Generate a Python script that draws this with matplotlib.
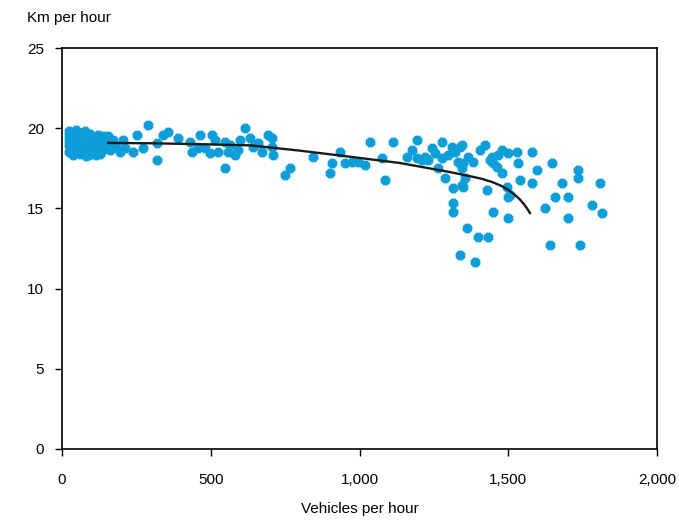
import matplotlib
matplotlib.use("Agg")
import matplotlib.pyplot as plt
from matplotlib.ticker import FuncFormatter

plt.rcParams['font.family'] = ['Liberation Sans', 'DejaVu Sans']

# observed flow (vehicles per hour) and speed (km per hour)
flow = [22, 22, 24, 34, 47, 61, 77, 94, 24, 34, 47, 61, 77, 94, 111, 24, 37, 54, 71, 87,
        104, 121, 128, 138, 148, 161, 171, 182, 27, 81, 114, 155, 128, 195, 205, 212,
        40, 55, 70, 85, 100, 118, 135, 150, 165, 60, 90, 120,
        252, 289, 272, 319, 239, 319, 339, 356, 390, 430, 464, 481, 504, 514, 524, 548,
        558, 548, 615, 632, 642, 672, 692, 706, 457, 497, 437, 565, 592, 598, 659, 582,
        706, 709, 766, 750, 844, 908, 901, 934, 951, 975, 995, 1018, 1035,
        1076, 1113, 1086, 1160, 1193, 1193, 1210, 1254, 1277, 1277, 1297, 1321, 1345,
        1331, 1345, 1355, 1287, 1314, 1348, 1365, 1244, 1264, 1311, 1230, 1314, 1314,
        1345, 1361, 1398, 1432, 1338, 1388, 1449, 1429, 1445, 1381, 1348, 1405, 1338,
        1462, 1466, 1499, 1529, 1580, 1533, 1479, 1539, 1580, 1597, 1647, 1499, 1499,
        1624, 1657, 1701, 1681, 1734, 1734, 1808, 1782, 1815, 1701, 1640, 1741,
        1422, 1479, 1439, 1177, 1220, 1496, 1506, 1449]
speed = [19.58, 18.95, 19.83, 19.58, 19.89, 19.70, 19.83, 19.64, 19.26, 18.95, 19.20,
         18.83, 19.26, 18.95, 19.39, 18.52, 18.33, 18.64, 18.45, 18.64, 18.45, 18.77,
         19.14, 19.51, 18.95, 18.64, 19.26, 18.83, 18.77, 18.27, 18.33, 19.51, 18.39,
         18.52, 19.26, 18.77,
         19.30, 19.00, 18.70, 19.45, 19.00, 19.30, 18.60, 19.20, 18.70, 18.40, 18.30, 19.60,
         19.58, 20.20, 18.77, 18.02, 18.52, 19.08, 19.58, 19.76, 19.39, 19.14, 19.58,
         18.77, 19.58, 19.26, 18.52, 19.14, 18.52, 17.52, 20.01, 19.39, 18.83, 18.52,
         19.58, 18.83, 18.77, 18.45, 18.52, 18.95, 18.64, 19.26, 19.08, 18.33,
         19.39, 18.33, 17.52, 17.08, 18.20, 17.83, 17.21, 18.52, 17.83, 17.89, 17.89,
         17.71, 19.14,
         18.14, 19.14, 16.77, 18.20, 18.14, 19.26, 18.02, 18.45, 19.14, 18.14, 18.33,
         18.52, 18.95, 17.89, 17.52, 16.90, 16.90, 16.27, 16.33, 18.20, 18.77, 17.52,
         18.83, 18.02, 15.34, 14.78, 16.46, 13.78, 13.22, 13.22, 12.09, 11.66, 14.78,
         16.15, 18.20, 17.89, 17.83, 18.64, 18.83,
         17.58, 18.33, 18.45, 18.52, 18.52, 17.83, 17.21, 16.77, 16.58, 17.39, 17.83,
         15.71, 14.40, 15.02, 15.71, 15.71, 16.58, 17.39, 16.90, 16.58, 15.21, 14.71,
         14.40, 12.72, 12.72,
         18.95, 18.64, 18.02, 18.64, 18.20, 16.33, 15.84, 17.83]

# fitted speed-flow curve
fit_flow = [155, 300, 450, 632, 800, 968, 1136, 1294, 1361, 1410, 1445, 1475, 1500,
            1520, 1539, 1552, 1563, 1573]
fit_speed = [19.08, 19.06, 19.01, 18.93, 18.6, 18.22, 17.83, 17.3, 17.05, 16.85,
             16.65, 16.42, 16.15, 15.88, 15.56, 15.28, 15.0, 14.71]

fig = plt.figure(figsize=(6.79, 5.21), dpi=100)
ax = fig.add_axes([62/679, 1 - 449/521, 595/679, 401/521])

ax.scatter(flow, speed, s=58, marker='8', color='#0e9fdb', linewidths=0, zorder=2)
ax.plot(fit_flow, fit_speed, color='#1a1a1a', lw=1.7, zorder=3,
        solid_joinstyle='round')

ax.set_xlim(0, 2000)
ax.set_ylim(0, 25)
ax.set_xticks([0, 500, 1000, 1500, 2000])
ax.set_yticks([0, 5, 10, 15, 20, 25])
ax.xaxis.set_major_formatter(FuncFormatter(lambda v, p: f"{int(v):,}"))
ax.tick_params(axis='x', direction='out', length=5, width=1, pad=12, labelsize=11)
ax.tick_params(axis='y', direction='out', length=5, width=1, pad=8, labelsize=11)
for s in ax.spines.values():
    s.set_linewidth(1.2)

ax.set_xlabel("Vehicles per hour", fontsize=11, labelpad=11)
fig.text(27/679, 1 - 18/521, "Km per hour", fontsize=11, ha='left', va='center')

fig.savefig("out.png", dpi=100)
